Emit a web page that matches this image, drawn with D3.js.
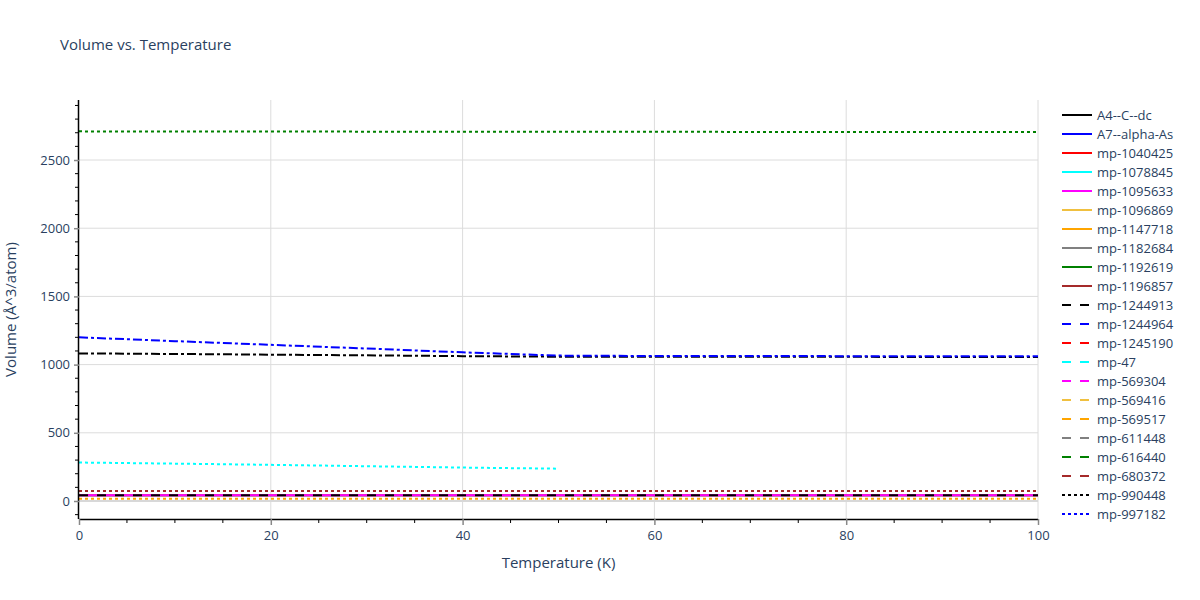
<!DOCTYPE html>
<html>
<head>
<meta charset="utf-8">
<script src="https://cdn.jsdelivr.net/npm/d3@7"></script>
<style>
body{margin:0;background:#fff;}
text{font-family:"Open Sans",Verdana,Arial,sans-serif;}
</style>
</head>
<body>
<svg id="chart" width="1200" height="600"></svg>
<script>
// ---- data ----
const legendNames = ["A4--C--dc","A7--alpha-As","mp-1040425","mp-1078845","mp-1095633","mp-1096869","mp-1147718","mp-1182684","mp-1192619","mp-1196857","mp-1244913","mp-1244964","mp-1245190","mp-47","mp-569304","mp-569416","mp-569517","mp-611448","mp-616440","mp-680372","mp-990448","mp-997182"];
const palette = ["#000000","#0000ff","#ff0000","#00ffff","#ff00ff","#f0c040","#ffa500","#808080","#008000","#a52a2a"];
const dashNames = ["solid","dash","dot","dashdot"];

const temps = [0,10,20,30,40,50,60,70,80,90,100];
const tempsHalf = [0,10,20,30,40,50];

const greenDotVals   = [2710,2709,2709,2708,2708,2707,2707,2706,2706,2705,2705];
const blueDashDotVals= [1200,1172,1145,1118,1090,1066,1063,1063,1062,1062,1062];
const blackDashDotVals=[1082,1078,1073,1068,1062,1058,1057,1057,1057,1056,1056];
const cyanDotVals    = [282,274,265,255,245,237];
const brownDotVals   = [73,73,73,73,73,73,73,73,73,73,73];
const redVals        = [43,43,43,43,43,43,43,43,43,43,43];
const grayVals       = [41,41,41,41,41,41,41,41,41,41,41];
const magentaVals    = [42,42,42,42,42,42,42,42,42,42,42];
const blackDashVals  = [42,42,42,42,42,42,42,42,42,42,42];
const orangeDotVals  = [17,17,17,17,17,17,17,17,17,17,17];

const traces = [
  {color:2, dash:"solid", t:temps, v:redVals},
  {color:7, dash:"solid", t:temps, v:grayVals},
  {color:4, dash:"solid", t:temps, v:magentaVals},
  {color:0, dash:"dash", t:temps, v:blackDashVals},
  {color:6, dash:"dot", t:temps, v:orangeDotVals},
  {color:9, dash:"dot", t:temps, v:brownDotVals},
  {color:3, dash:"dot", t:tempsHalf, v:cyanDotVals},
  {color:0, dash:"dashdot", t:temps, v:blackDashDotVals},
  {color:1, dash:"dashdot", t:temps, v:blueDashDotVals},
  {color:8, dash:"dot", t:temps, v:greenDotVals}
];

const xTicks = [0,20,40,60,80,100];
const yTicks = [0,500,1000,1500,2000,2500];

// ---- layout ----
const svg = d3.select("#chart");
const L = 79, R = 1038, T = 100, B = 519;
const x = d3.scaleLinear().domain([0,100]).range([L,R]);
const y = d3.scaleLinear().domain([-132,2940]).range([B,T]);
const txtColor = "#2a3f5f";
const dashArr = {solid:null, dash:"9,9", dot:"3,3", dashdot:"9,3,3,3"};

// grid
svg.append("g").selectAll("line").data(xTicks.slice(1)).join("line")
  .attr("x1",d=>x(d)).attr("x2",d=>x(d)).attr("y1",T).attr("y2",B)
  .attr("stroke","#dcdcdc").attr("stroke-width",1);
svg.append("g").selectAll("line").data(yTicks).join("line")
  .attr("x1",L).attr("x2",R).attr("y1",d=>y(d)).attr("y2",d=>y(d))
  .attr("stroke",d=>d===0?"#d8d8d8":"#dcdcdc").attr("stroke-width",d=>d===0?2:1);

// lines
const line = d3.line().x(d=>x(d[0])).y(d=>y(d[1]));
const plot = svg.append("g");
traces.forEach(tr=>{
  plot.append("path")
    .attr("d", line(tr.t.map((t,i)=>[t,tr.v[i]])))
    .attr("fill","none").attr("stroke",palette[tr.color]).attr("stroke-width",2)
    .attr("stroke-dasharray",dashArr[tr.dash]);
});

// axes
const xAxis = d3.axisBottom(x).tickValues(xTicks).tickSize(6).tickPadding(6).tickFormat(d3.format("d"));
const gx = svg.append("g").attr("transform",`translate(0,${B})`).call(xAxis);
const xMinor = d3.range(0,101,5).filter(d=>d%20!==0);
svg.append("g").selectAll("line").data(xMinor).join("line")
  .attr("x1",d=>x(d)).attr("x2",d=>x(d)).attr("y1",B).attr("y2",B+4)
  .attr("stroke","#000").attr("stroke-width",1);

const yAxis = d3.axisLeft(y).tickValues(yTicks).tickSize(5).tickPadding(4).tickFormat(d3.format("d"));
const gy = svg.append("g").attr("transform",`translate(${L},0)`).call(yAxis);
const yMinor = d3.range(-100,2901,100).filter(d=>d%500!==0);
svg.append("g").selectAll("line").data(yMinor).join("line")
  .attr("x1",L-4).attr("x2",L).attr("y1",d=>y(d)).attr("y2",d=>y(d))
  .attr("stroke","#000").attr("stroke-width",1);

[gx,gy].forEach(g=>{
  g.select(".domain").attr("stroke","#000").attr("stroke-width",1.5);
  g.selectAll(".tick line").attr("stroke","#888").attr("stroke-width",1.5);
  g.selectAll(".tick text").attr("fill",txtColor).attr("font-size",13)
   .attr("font-family",'"Open Sans",Verdana,sans-serif');
});
gx.select(".domain").attr("d",`M${L},0.5H${R}`);
gy.select(".domain").attr("d",`M-0.5,${T}V${B}`);

// titles
svg.append("text").attr("x",60).attr("y",50).attr("fill",txtColor)
  .attr("font-size",15).text("Volume vs. Temperature");
svg.append("text").attr("x",(L+R)/2).attr("y",568).attr("text-anchor","middle")
  .attr("fill",txtColor).attr("font-size",15).text("Temperature (K)");
svg.append("text").attr("transform",`translate(16,${(T+B)/2}) rotate(-90)`)
  .attr("text-anchor","middle").attr("fill",txtColor).attr("font-size",15)
  .text("Volume (Å^3/atom)");

// legend
const lg = svg.append("g");
legendNames.forEach((n,i)=>{
  const yy = 115 + i*19;
  const dash = dashNames[Math.floor(i/10)];
  lg.append("line").attr("x1",1062).attr("x2",1092).attr("y1",yy).attr("y2",yy)
    .attr("stroke",palette[i%10]).attr("stroke-width",2)
    .attr("stroke-dasharray",dashArr[dash]);
  lg.append("text").attr("x",1097).attr("y",yy+4.5).attr("fill",txtColor)
    .attr("font-size",13).text(n);
});
</script>
</body>
</html>
